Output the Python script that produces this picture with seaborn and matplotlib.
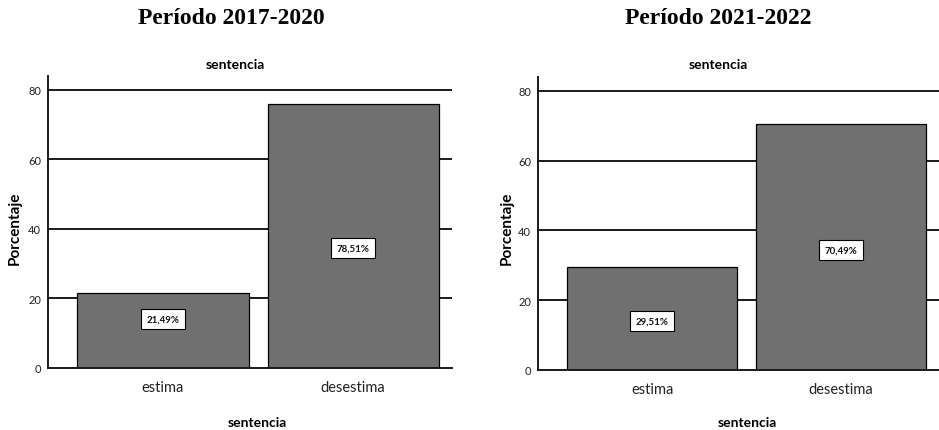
import matplotlib
matplotlib.use("Agg")
import matplotlib.pyplot as plt
import seaborn as sns
import pandas as pd
from matplotlib.transforms import blended_transform_factory

# ---- data ----
categories = ["estima", "desestima"]
periods = ["Período 2017-2020", "Período 2021-2022"]
heights_2017 = [21.49, 76.0]
heights_2021 = [29.51, 70.49]
labels_2017 = ["21,49%", "78,51%"]
labels_2021 = ["29,51%", "70,49%"]
yticks = [0, 20, 40, 60, 80]
axis_title = "sentencia"
ylabel = "Porcentaje"

sns.set_theme(style="white")
SANS = ["Lato", "DejaVu Sans"]
SERIF = ["Liberation Serif", "DejaVu Serif"]
plt.rcParams["font.family"] = SANS
plt.rcParams["text.color"] = "black"

W, H = 939, 431
fig = plt.figure(figsize=(W / 100, H / 100), dpi=100)

panels = [
    dict(period=periods[0], heights=heights_2017, labels=labels_2017,
         rect=(48, 369, 452, 77), title_x=231, top_x=235, bot_x=257, ylab_x=15),
    dict(period=periods[1], heights=heights_2021, labels=labels_2021,
         rect=(538, 371, 939, 78), title_x=718, top_x=718, bot_x=747, ylab_x=507),
]

label_frac = [0.168, 0.41]

for p in panels:
    x0, yb, x1, yt = p["rect"]
    ax = fig.add_axes([x0 / W, 1 - yb / H, (x1 - x0) / W, (yb - yt) / H])
    df = pd.DataFrame({"sentencia": categories, "pct": p["heights"]})
    ax.set_axisbelow(True)
    for t in yticks[1:]:
        ax.axhline(t, color="#1a1a1a", lw=1.4, zorder=0)
    sns.barplot(data=df, x="sentencia", y="pct", order=categories,
                color="#707070", saturation=1, width=0.9,
                edgecolor="black", linewidth=0.9, ax=ax, zorder=2)
    ax.set_xlim(-0.605, 1.52)
    ax.set_ylim(0, 84)
    ax.set_yticks(yticks)
    ax.tick_params(axis="both", length=0, pad=5)
    ax.tick_params(axis="y", labelsize=8, labelcolor="#222222")
    ax.tick_params(axis="x", labelsize=10.5, pad=9, labelcolor="#222222")
    ax.set_xlabel("")
    ax.set_ylabel("")
    for s in ["top", "right"]:
        ax.spines[s].set_visible(False)
    for s in ["left", "bottom"]:
        ax.spines[s].set_color("#1a1a1a")
        ax.spines[s].set_linewidth(1.4)
    trans = blended_transform_factory(ax.transData, ax.transAxes)
    for i, lab in enumerate(p["labels"]):
        ax.text(i, label_frac[i], lab, transform=trans, ha="center", va="center",
                fontsize=7, fontweight="bold", color="#111111", zorder=5,
                bbox=dict(boxstyle="square,pad=0.55", fc="white", ec="black", lw=0.8))
    fig.text(p["title_x"] / W, 1 - 18 / H, p["period"], ha="center", va="center",
             family=SERIF, fontweight="bold", fontsize=17)
    fig.text(p["top_x"] / W, 1 - 65 / H, axis_title, ha="center", va="center",
             fontweight="bold", fontsize=10)
    fig.text(p["bot_x"] / W, 1 - 423 / H, axis_title, ha="center", va="center",
             fontweight="bold", fontsize=10)
    fig.text(p["ylab_x"] / W, 1 - 228 / H, ylabel, ha="center", va="center",
             rotation=90, fontweight="bold", fontsize=11)

fig.savefig("out.png", dpi=100, facecolor="white")
